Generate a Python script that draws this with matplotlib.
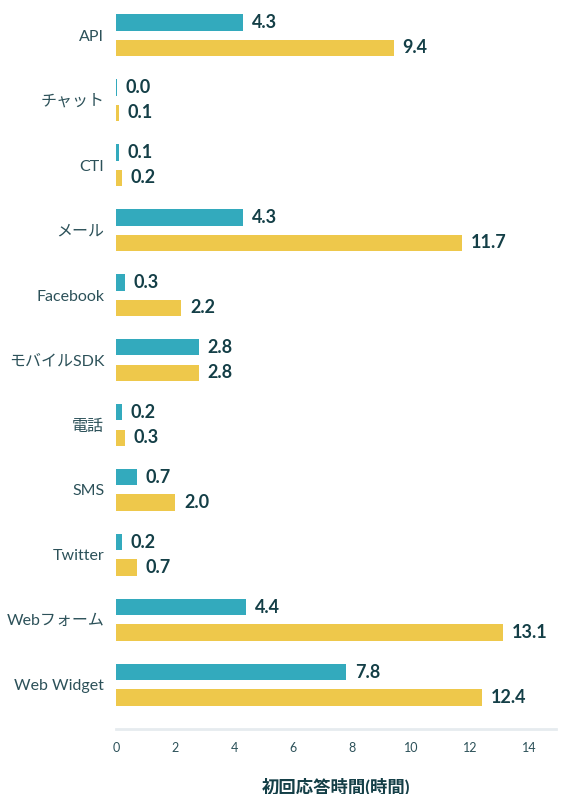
import matplotlib
matplotlib.use("Agg")
import matplotlib.pyplot as plt
import numpy as np

plt.rcParams['font.family'] = ['Lato', 'Noto Sans CJK JP', 'DejaVu Sans']

categories = ["API", "チャット", "CTI", "メール", "Facebook", "モバイルSDK", "電話",
              "SMS", "Twitter", "Webフォーム", "Web Widget"]
series_a = [4.3, 0.03, 0.1, 4.3, 0.3, 2.8, 0.2, 0.7, 0.2, 4.4, 7.8]
series_b = [9.4, 0.1, 0.2, 11.7, 2.2, 2.8, 0.3, 2.0, 0.7, 13.1, 12.4]
xticks = [0, 2, 4, 6, 8, 10, 12, 14]
xlabel = "初回応答時間(時間)"

teal = "#33aabd"
yellow = "#eec84b"
text_dark = "#143f47"
tick_col = "#2c5159"

fig = plt.figure(figsize=(5.64, 7.94), dpi=100)
ax = fig.add_axes([116/564, 1-729/794, (556-116)/564, (729-6)/794])

y = np.arange(len(categories))
h = 0.25
off = 0.195
ax.barh(y - off, series_a, height=h, color=teal)
ax.barh(y + off, series_b, height=h, color=yellow)

for yi, a, b in zip(y, series_a, series_b):
    ax.annotate(f"{a:.1f}", (a, yi - off), xytext=(6.5, 0), textcoords="offset points",
                va="center", ha="left", fontsize=13, fontweight="bold", color=text_dark)
    ax.annotate(f"{b:.1f}", (b, yi + off), xytext=(6.5, 0), textcoords="offset points",
                va="center", ha="left", fontsize=13, fontweight="bold", color=text_dark)

ax.set_ylim(10.68, -0.45)
ax.set_xlim(0, 14.9)
ax.set_yticks(y)
ax.set_yticklabels(categories, fontsize=11.5, color=tick_col)
ax.set_xticks(xticks)
ax.set_xticklabels([str(t) for t in xticks], fontsize=9, color=tick_col)
ax.tick_params(axis='y', length=0, pad=8.5)
ax.tick_params(axis='x', length=0, pad=9)
for s in ["top", "right", "left"]:
    ax.spines[s].set_visible(False)
ax.spines["bottom"].set_color("#e6ebef")
ax.spines["bottom"].set_linewidth(2)
ax.set_xlabel(xlabel, fontsize=12.5, fontweight="bold", color=text_dark, labelpad=17)

fig.savefig("out.png", dpi=100)
